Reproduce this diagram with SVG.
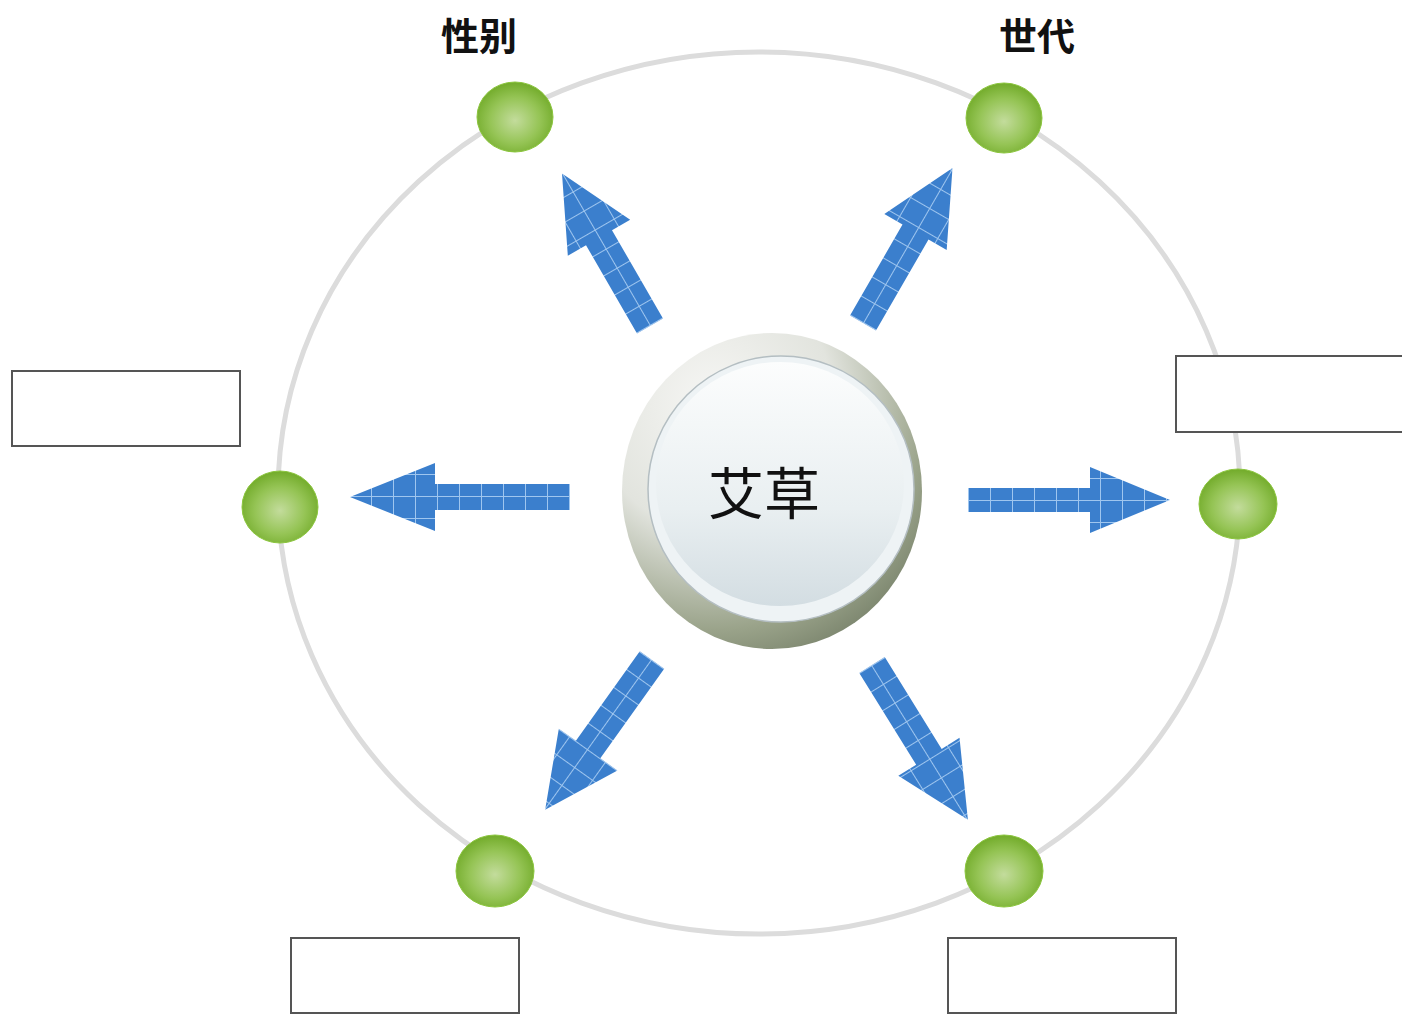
<svg xmlns="http://www.w3.org/2000/svg" width="1402" height="1016" viewBox="0 0 1402 1016">
<style>
.lbl{font-family:"Noto Sans CJK SC","Noto Sans CJK JP",sans-serif;font-weight:bold;font-size:38px;fill:#111;text-anchor:middle;dominant-baseline:central}
.ctr{font-family:"Noto Sans CJK SC","Noto Sans CJK JP",sans-serif;font-size:56px;fill:#111;text-anchor:middle;dominant-baseline:central}
.box{fill:#fff;stroke:#555;stroke-width:2}
.dot{fill:url(#gDot);stroke:#8cc63f;stroke-width:1}
.arr{fill:url(#grid)}
</style>
<defs>
<radialGradient id="gDot" cx="0.5" cy="0.55" r="0.55">
<stop offset="0" stop-color="#c3dc9c"/>
<stop offset="0.6" stop-color="#95c455"/>
<stop offset="1" stop-color="#72ab2a"/>
</radialGradient>
<radialGradient id="gRing" cx="0.3" cy="0.22" r="0.9">
<stop offset="0" stop-color="#f6f6f4"/>
<stop offset="0.45" stop-color="#e2e4de"/>
<stop offset="0.8" stop-color="#9aa38a"/>
<stop offset="1" stop-color="#737d66"/>
</radialGradient>
<linearGradient id="gFace" x1="0" y1="0" x2="0" y2="1">
<stop offset="0" stop-color="#fcfdfd"/>
<stop offset="0.6" stop-color="#e9eff1"/>
<stop offset="1" stop-color="#d3dde2"/>
</linearGradient>
<pattern id="grid" patternUnits="userSpaceOnUse" x="0" y="0" width="22" height="22">
<rect width="22" height="22" fill="#3b7fcd"/>
<path d="M0,0.5 H22 M0.5,0 V22" stroke="#9fc6ef" stroke-width="1" fill="none"/>
</pattern>
</defs>
<rect width="1402" height="1016" fill="#fff"/>
<ellipse id="ring" cx="759" cy="493" rx="481" ry="441" fill="none" stroke="#dcdcdc" stroke-width="5"/>
<g id="connectors">
<path class="arr" transform="translate(570,497) rotate(180)" d="M0,-13 L135,-13 L135,-34 L220,0 L135,34 L135,13 L0,13 Z"/>
<path class="arr" transform="translate(968,500)" d="M0,-12 L122,-12 L122,-33 L202,0 L122,33 L122,12 L0,12 Z"/>
<path class="arr" transform="translate(650,326) rotate(-120)" d="M0,-15 L102,-15 L102,-36 L176,0 L102,36 L102,15 L0,15 Z"/>
<path class="arr" transform="translate(863,323) rotate(-60)" d="M0,-15 L105,-15 L105,-36 L179,0 L105,36 L105,15 L0,15 Z"/>
<path class="arr" transform="translate(652,660) rotate(125.5)" d="M0,-15 L110,-15 L110,-36 L184,0 L110,36 L110,15 L0,15 Z"/>
<path class="arr" transform="translate(872,665) rotate(58.2)" d="M0,-15 L108,-15 L108,-36 L182,0 L108,36 L108,15 L0,15 Z"/>
</g>
<g id="center">
<ellipse cx="772" cy="491" rx="150" ry="158" fill="url(#gRing)"/>
<ellipse cx="781" cy="489" rx="133" ry="133" fill="#eef3f5" stroke="#b4bec2" stroke-width="1.5"/>
<ellipse cx="780" cy="484" rx="124" ry="122" fill="url(#gFace)"/>
<text class="ctr" x="764" y="489">艾草</text>
</g>
<g id="node-gender">
<ellipse class="dot" cx="515" cy="117" rx="38" ry="35"/>
<text class="lbl" x="479" y="33">性别</text>
</g>
<g id="node-generation">
<ellipse class="dot" cx="1004" cy="118" rx="38" ry="35"/>
<text class="lbl" x="1037" y="33">世代</text>
</g>
<g id="node-left">
<ellipse class="dot" cx="280" cy="507" rx="38" ry="36"/>
<rect class="box" x="12" y="371" width="228" height="75"/>
</g>
<g id="node-right">
<ellipse class="dot" cx="1238" cy="504" rx="39" ry="35"/>
<rect class="box" x="1176" y="356" width="232" height="76"/>
</g>
<g id="node-bottom-left">
<ellipse class="dot" cx="495" cy="871" rx="39" ry="36"/>
<rect class="box" x="291" y="938" width="228" height="75"/>
</g>
<g id="node-bottom-right">
<ellipse class="dot" cx="1004" cy="871" rx="39" ry="36"/>
<rect class="box" x="948" y="938" width="228" height="75"/>
</g>
</svg>
